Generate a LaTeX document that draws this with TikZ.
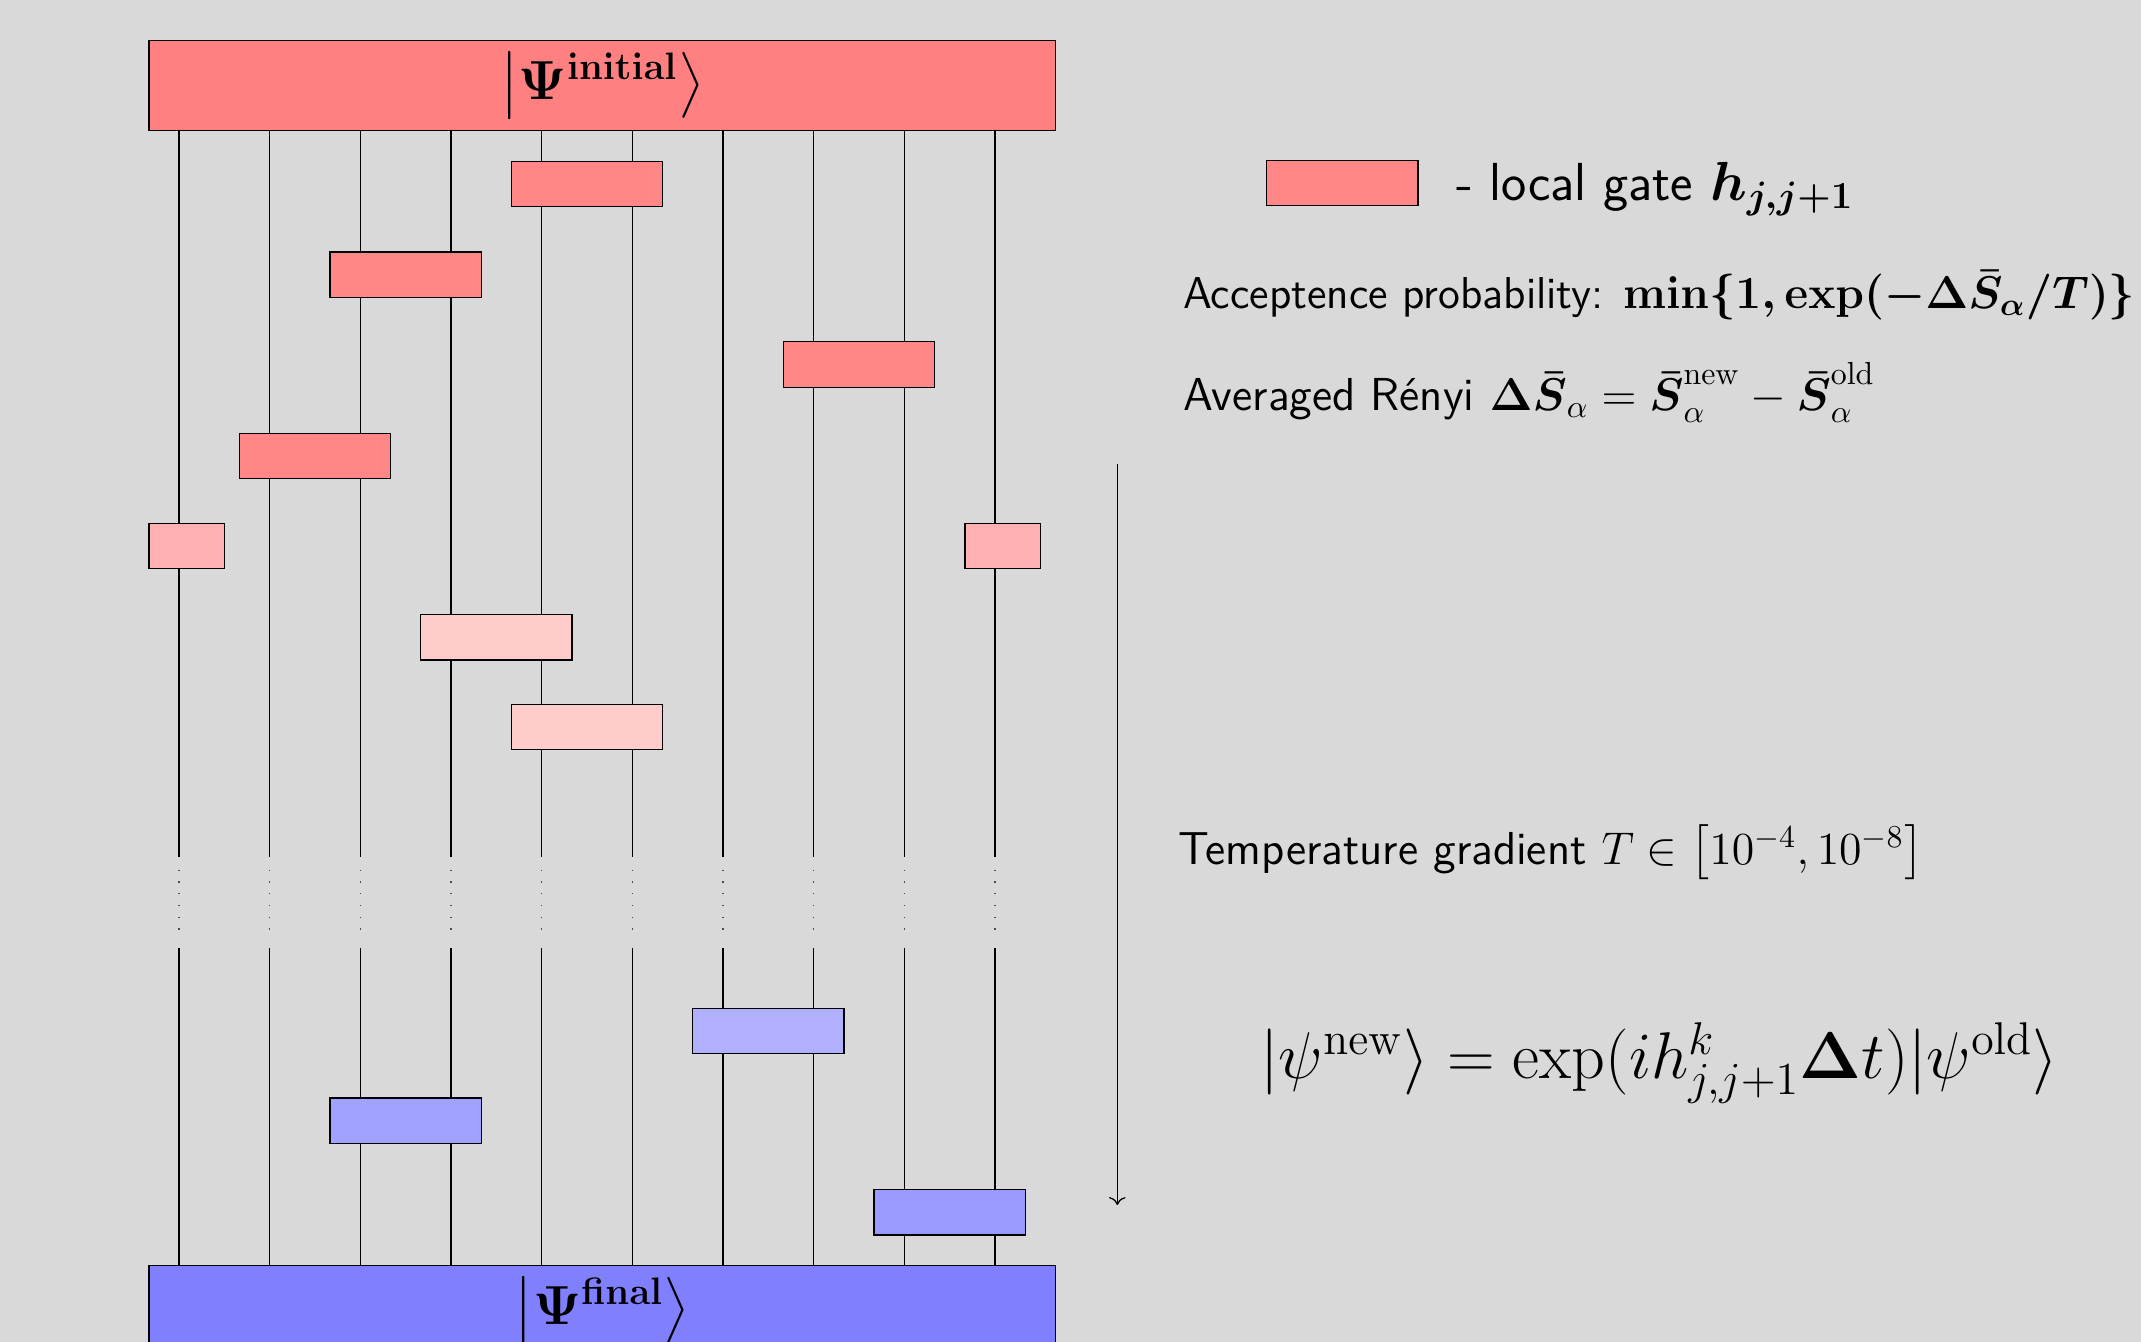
\documentclass[tikz,border=0pt]{standalone}
\usepackage{amsmath}
\usepackage{xcolor}
\usepackage{tikz}
\usetikzlibrary{arrows.meta, positioning, calc}

\definecolor{bggray}{HTML}{D9D9D9}

\begin{document}
\begin{tikzpicture}[
          gate/.style={draw, inner sep=0pt, minimum width=1.67cm, minimum height=0.5cm, fill=red!47},
          single/.style={gate, minimum width=0.83cm, fill=red!31},
          state/.style={draw, inner sep=0pt, minimum width=10cm, minimum height=0.99cm, font=\fontsize{16.8}{19}\selectfont\boldmath},
          dots/.style={dash pattern=on 0.4pt off 3.3pt, line width=0.4pt, black!70},
          txt/.style={anchor=base west, inner sep=0pt, font=\fontsize{14.5}{17}\selectfont\sffamily}
        ]
          \path[use as bounding box, fill=bggray] (-0.973,0) rectangle (22.64,14.80);

          \node[state, fill=red!50] (top) at (5.67,13.855) {$\left|\Psi^{\mathrm{initial}}\right\rangle$};
          \node[state, fill=blue!50] (bot) at (5.67,0.345) {$\left|\Psi^{\mathrm{final}}\right\rangle$};

          \foreach \i in {1,...,10} {
            \coordinate (w\i) at (\i,0);
            \draw (top.south -| w\i) -- (\i,5.35);
            \draw[dots] (\i,5.21) -- (\i,4.44);
            \draw (\i,4.34) -- (bot.north -| w\i);
          }

          \node[gate] (g1) at (5.5,12.77) {};
          \node[gate] (g2) at (3.5,11.77) {};
          \node[gate] (g3) at (8.5,10.78) {};
          \node[gate] (g4) at (2.5,9.77) {};
          \node[single] (g5a) at (1.085,8.78) {};
          \node[single] (g5b) at (10.085,8.78) {};
          \node[gate, fill=red!20] (g6) at (4.5,7.77) {};
          \node[gate, fill=red!20] (g7) at (5.5,6.78) {};

          \node[gate, fill=blue!31] (b1) at (7.5,3.43) {};
          \node[gate, fill=blue!37] (b2) at (3.5,2.44) {};
          \node[gate, fill=blue!40] (b3) at (9.5,1.43) {};

          \coordinate (tstart) at (11.35,9.68);
          \coordinate (tend) at (11.35,1.51);
          \draw[->] (tstart) -- (tend);

          \node[gate] (legend) at (13.83,12.78) {};
          \node[txt, font=\fontsize{16.8}{20}\selectfont\sffamily] (legtxt) at (15.08,12.59) {- local gate $\boldsymbol{h_{j,j+1}}$};
          \node[txt, font=\fontsize{14}{17}\selectfont\sffamily] (accept) at (12.07,11.40) {Acceptence probability: {\boldmath$\min\{1,\exp(-\Delta\bar{S}_{\alpha}/T)\}$}};
          \node[txt] (renyi) at (12.07,10.27) {Averaged R\'enyi $\mathbf{\Delta}\boldsymbol{\bar{S}}_{\alpha}=\boldsymbol{\bar{S}}_{\alpha}^{\mathrm{new}}-\boldsymbol{\bar{S}}_{\alpha}^{\mathrm{old}}$};
          \node[txt] (temp) at (12.02,5.27) {Temperature gradient $T\in\left[10^{-4},10^{-8}\right]$};
          \node[anchor=base, inner sep=0pt, font=\fontsize{19.5}{23}\selectfont] (update) at (17.33,2.91) {$|\psi^{\mathrm{new}}\rangle=\exp(ih^{k}_{j,j+1}\mathbf{\Delta}t)|\psi^{\mathrm{old}}\rangle$};
        \end{tikzpicture}
\end{document}
